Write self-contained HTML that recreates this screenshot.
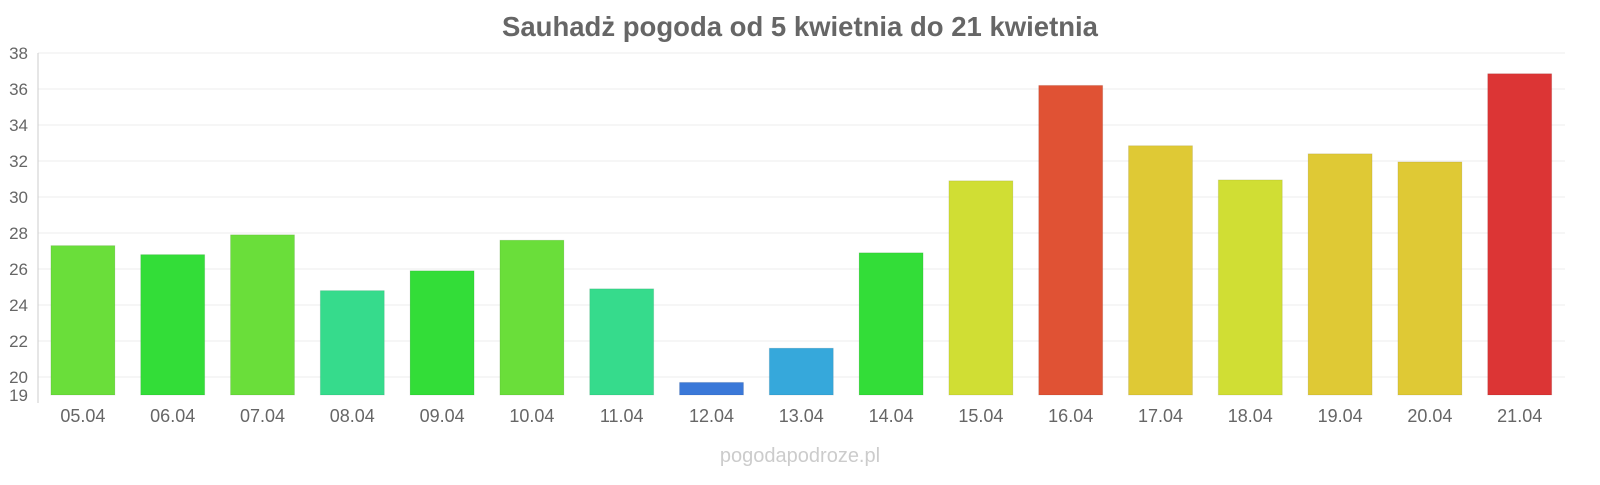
<!DOCTYPE html>
<html><head><meta charset="utf-8"><style>
body{margin:0;background:#fff;font-family:"Liberation Sans",sans-serif}
</style></head><body>
<svg id="c" width="1600" height="480" xmlns="http://www.w3.org/2000/svg">
<text x="800" y="36" text-anchor="middle" font-size="27.5" font-weight="bold" fill="#666">Sauhadż pogoda od 5 kwietnia do 21 kwietnia</text>
<text x="800" y="462" text-anchor="middle" font-size="20" fill="#ccc">pogodapodroze.pl</text>
<g id="grid"></g><g id="bars"></g><g id="xl"></g>
</svg>
<script>
const categories=["05.04","06.04","07.04","08.04","09.04","10.04","11.04","12.04","13.04","14.04","15.04","16.04","17.04","18.04","19.04","20.04","21.04"];
const values=[27.3,26.8,27.9,24.8,25.9,27.6,24.9,19.7,21.6,26.9,30.9,36.2,32.85,30.95,32.4,31.95,36.85];
const colors=["#6ade3a","#33dd38","#6ade3a","#36db8c","#33dd38","#6ade3a","#36db8c","#3a78d8","#36a8db","#33dd38","#d0de34","#e05234","#dfc935","#d0de34","#dfc935","#dfc935","#dc3535"];
const ticks=[19,20,22,24,26,28,30,32,34,36,38];
const NS="http://www.w3.org/2000/svg";
const x0=38,band=89.8,yMin=19,yMax=38,yTop=53,yBot=395;
const y=v=>yBot-(v-yMin)/(yMax-yMin)*(yBot-yTop);
function mk(t,a,p){const e=document.createElementNS(NS,t);for(const k in a)e.setAttribute(k,a[k]);p.appendChild(e);return e;}
const g=document.getElementById('grid');
ticks.forEach(t=>{
 if(t>19){const l=mk('line',{x1:x0,x2:1565,y1:y(t),y2:y(t),stroke:'#eee'},g);
 
 }
 const tx=mk('text',{x:28,y:y(t)+6,'text-anchor':'end','font-size':17,fill:'#666'},g);tx.textContent=t;
 
 
});
const ax=mk('line',{x1:x0,x2:x0,y1:yTop,y2:403,stroke:'#ccc'},g);


const b=document.getElementById('bars'),xl=document.getElementById('xl');
categories.forEach((c,i)=>{
 const cx=x0+band*(i+0.5);
 const r=mk('rect',{x:cx-32,y:y(values[i]),width:64,height:yBot-y(values[i]),fill:colors[i],stroke:'rgba(0,0,0,0.08)'},b);
 
 
 const t=mk('text',{x:cx,y:422,'text-anchor':'middle','font-size':18,fill:'#666'},xl);t.textContent=c;
 
 
});
</script>
</body></html>
